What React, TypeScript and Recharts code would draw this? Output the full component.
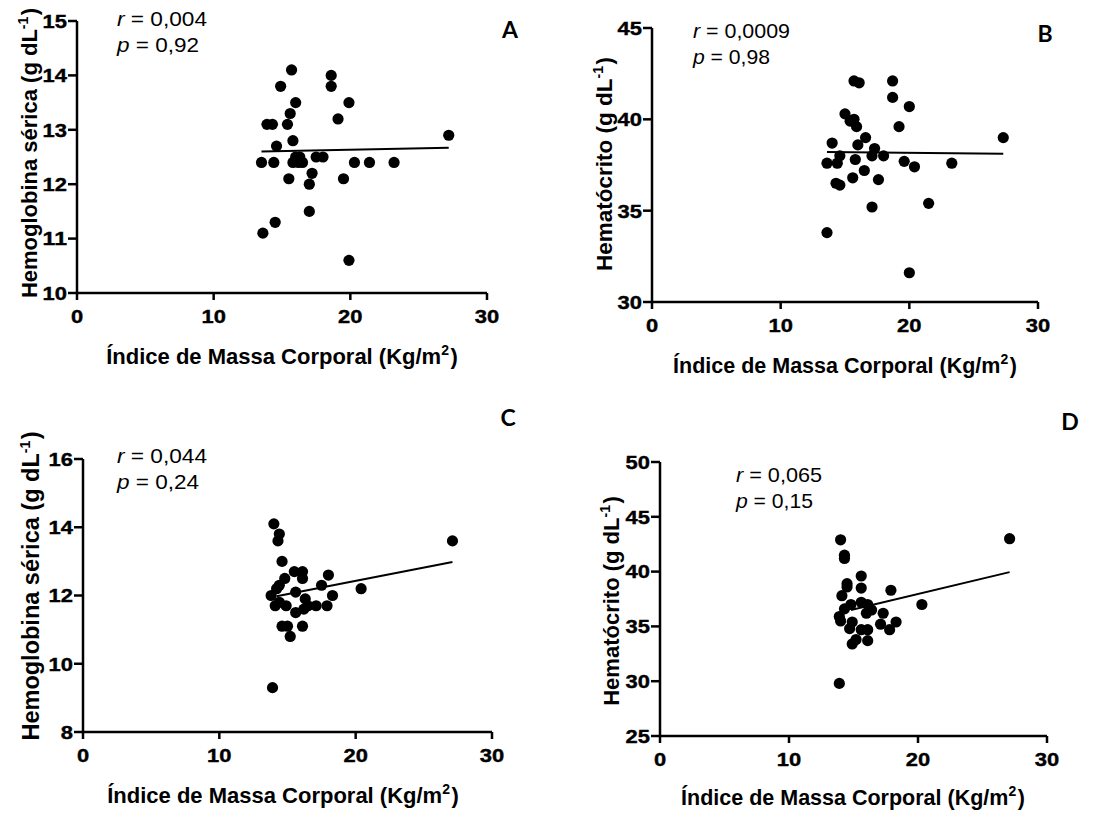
import React from 'react';
import { ScatterChart, Scatter, XAxis, YAxis, ReferenceLine } from 'recharts';

// índice de massa corporal (x) e valores (y)
const imcA = [15.7, 18.6, 18.6, 14.9, 16.0, 19.9, 15.6, 19.1, 13.9, 14.3, 15.4, 27.2, 15.8, 14.6, 13.5, 14.4, 15.8, 16.5, 16.0, 16.3, 16.2, 17.5, 18.0, 20.3, 21.4, 23.2, 17.2, 15.5, 19.5, 17.0, 17.0, 14.5, 13.6, 19.9];
const hbA = [14.1, 14.0, 13.8, 13.8, 13.5, 13.5, 13.3, 13.2, 13.1, 13.1, 13.1, 12.9, 12.8, 12.7, 12.4, 12.4, 12.4, 12.4, 12.5, 12.5, 12.4, 12.5, 12.5, 12.4, 12.4, 12.4, 12.2, 12.1, 12.1, 12.0, 11.5, 11.3, 11.1, 10.6];

const imcB = [15.7, 16.1, 18.7, 18.7, 20.0, 15.0, 15.7, 15.4, 15.9, 19.2, 27.3, 16.6, 14.0, 16.0, 17.3, 14.6, 17.1, 18.0, 15.8, 13.6, 14.4, 19.6, 20.4, 23.3, 16.5, 15.6, 17.6, 14.3, 14.6, 17.1, 21.5, 13.6, 20.0];
const htB = [42.1, 42.0, 42.1, 41.2, 40.7, 40.3, 40.0, 39.9, 39.6, 39.6, 39.0, 39.0, 38.7, 38.6, 38.4, 38.0, 38.0, 38.0, 37.8, 37.6, 37.6, 37.7, 37.4, 37.6, 37.2, 36.8, 36.7, 36.5, 36.4, 35.2, 35.4, 33.8, 31.6];

const imcC = [14.0, 14.4, 14.3, 27.1, 14.6, 15.5, 16.1, 18.0, 14.8, 16.1, 14.4, 17.5, 14.2, 20.4, 15.6, 13.8, 18.3, 16.3, 14.4, 14.1, 14.9, 16.5, 17.1, 17.9, 16.2, 15.6, 14.6, 15.0, 16.1, 15.2, 13.9];
const hbC = [14.1, 13.8, 13.6, 13.6, 13.0, 12.7, 12.7, 12.6, 12.5, 12.5, 12.3, 12.3, 12.2, 12.2, 12.1, 12.0, 12.0, 11.9, 11.8, 11.7, 11.7, 11.7, 11.7, 11.7, 11.6, 11.5, 11.1, 11.1, 11.1, 10.8, 9.3];

const imcD = [14.0, 27.1, 14.3, 14.3, 15.6, 14.5, 14.5, 15.6, 17.9, 14.1, 15.6, 14.8, 16.1, 20.3, 14.3, 16.4, 16.0, 17.3, 13.9, 14.0, 14.9, 17.1, 18.3, 14.7, 15.6, 16.1, 17.8, 15.2, 14.9, 16.1, 13.9];
const htD = [42.9, 43.0, 41.5, 41.2, 39.6, 38.9, 38.6, 38.5, 38.3, 37.8, 37.2, 37.0, 37.0, 37.0, 36.6, 36.5, 36.2, 36.2, 35.9, 35.5, 35.4, 35.2, 35.4, 34.8, 34.7, 34.7, 34.7, 33.8, 33.4, 33.7, 29.8];

// retas de regressão (extremos)
const lineA = [{ x: 13.5, y: 12.6 }, { x: 27.2, y: 12.67 }];
const lineB = [{ x: 13.6, y: 38.21 }, { x: 27.3, y: 38.12 }];
const lineC = [{ x: 14.2, y: 11.98 }, { x: 27.1, y: 12.98 }];
const lineD = [{ x: 14.8, y: 36.5 }, { x: 27.1, y: 39.95 }];

const xTicks = [0, 10, 20, 30];
const yTicksA = [10, 11, 12, 13, 14, 15];
const yTicksB = [30, 35, 40, 45];
const yTicksC = [8, 10, 12, 14, 16];
const yTicksD = [25, 30, 35, 40, 45, 50];

const toPoints = (xs: number[], ys: number[]) => xs.map((x, i) => ({ x, y: ys[i] }));

const AXIS_FONT = '"Liberation Sans", Arial, sans-serif';
const TICK_STYLE = { fontFamily: AXIS_FONT, fontWeight: 700, fontSize: 19, fill: '#000', stroke: '#000', strokeWidth: 0.4 };
// the original lettering is wider than Arial, so digits are stretched a little
const DIGIT_W = 12.2;

type PanelProps = {
  data: { x: number; y: number }[];
  line: { x: number; y: number }[];
  yTicks: number[];
  left: number;
  top: number;
  right: number;
  bottom: number;
};

const Dot = (props: any) => <circle cx={props.cx} cy={props.cy} r={5.6} fill="#000" />;

const XTick = (props: any) => {
  const s = String(props.payload.value);
  return (
    <text x={props.x} y={props.y} dy="0.7em" textAnchor="middle" textLength={s.length * DIGIT_W} lengthAdjust="spacingAndGlyphs" style={TICK_STYLE}>
      {s}
    </text>
  );
};

const YTick = (props: any) => {
  const s = String(props.payload.value);
  return (
    <text x={props.x} y={props.y} dy="0.36em" textAnchor="end" textLength={s.length * DIGIT_W} lengthAdjust="spacingAndGlyphs" style={TICK_STYLE}>
      {s}
    </text>
  );
};

const Panel = ({ data, line, yTicks, left, top, right, bottom }: PanelProps) => {
  const yAxisW = 60;
  const xAxisH = 50;
  const w = right - left + yAxisW + 12;
  const h = bottom - top + 12 + xAxisH;
  return (
    <div style={{ position: 'absolute', left: left - yAxisW, top: top - 12 }}>
      <ScatterChart width={w} height={h} margin={{ top: 12, right: 12, bottom: 0, left: 0 }}>
        <XAxis
          type="number"
          dataKey="x"
          domain={[0, 30]}
          ticks={xTicks}
          height={xAxisH}
          tick={XTick}
          tickSize={7}
          tickMargin={10}
          axisLine={{ stroke: '#000', strokeWidth: 2.5 }}
          tickLine={{ stroke: '#000', strokeWidth: 2.5 }}
        />
        <YAxis
          type="number"
          dataKey="y"
          domain={[yTicks[0], yTicks[yTicks.length - 1]]}
          ticks={yTicks}
          width={yAxisW}
          tick={YTick}
          tickSize={9}
          tickMargin={1}
          axisLine={{ stroke: '#000', strokeWidth: 2.5 }}
          tickLine={{ stroke: '#000', strokeWidth: 2.5 }}
        />
        <ReferenceLine segment={line} stroke="#000" strokeWidth={2} />
        <Scatter data={data} shape={Dot} isAnimationActive={false} />
      </ScatterChart>
    </div>
  );
};

const TITLE = { fontFamily: AXIS_FONT, fontWeight: 700, fill: '#000' };
const NOTE = { fontFamily: AXIS_FONT, fontSize: 21, fill: '#000' };
const LETTER = { fontFamily: 'Lato, "Open Sans", sans-serif', fontWeight: 700, fontSize: 23, fill: '#000' };

const XTitle = ({ x, y, size }: { x: number; y: number; size: number }) => (
  <text x={x} y={y} textAnchor="middle" style={{ ...TITLE, fontSize: size }}>
    Índice de Massa Corporal (Kg/m<tspan dy={-9} fontSize={14}>2</tspan><tspan dx={1.5} dy={9}>)</tspan>
  </text>
);

const YTitle = ({ x, y, size, label }: { x: number; y: number; size: number; label: string }) => (
  <text x={x} y={y} textAnchor="middle" transform={`rotate(-90 ${x} ${y})`} style={{ ...TITLE, fontSize: size }}>
    {label} (g dL<tspan dy={-9} fontSize={14}>-1</tspan><tspan dx={1.5} dy={9}>)</tspan>
  </text>
);

const Stats = ({ x, y, r, p, rLen, pLen }: { x: number; y: number; r: string; p: string; rLen: number; pLen: number }) => (
  <g style={NOTE}>
    <text x={x} y={y} textLength={rLen} lengthAdjust="spacingAndGlyphs">
      <tspan fontStyle="italic">r</tspan>{' = ' + r}
    </text>
    <text x={x} y={y + 26} textLength={pLen} lengthAdjust="spacingAndGlyphs">
      <tspan fontStyle="italic">p</tspan>{' = ' + p}
    </text>
  </g>
);

export default function App() {
  return (
    <div style={{ position: 'absolute', left: 0, top: 0, width: 1113, height: 813, background: '#fff' }}>
      <Panel data={toPoints(imcA, hbA)} line={lineA} yTicks={yTicksA} left={77} top={21} right={487} bottom={293} />
      <Panel data={toPoints(imcB, htB)} line={lineB} yTicks={yTicksB} left={652} top={28} right={1038} bottom={302} />
      <Panel data={toPoints(imcC, hbC)} line={lineC} yTicks={yTicksC} left={83} top={459} right={492} bottom={732} />
      <Panel data={toPoints(imcD, htD)} line={lineD} yTicks={yTicksD} left={660} top={462} right={1047} bottom={736} />

      <svg width={1113} height={813} style={{ position: 'absolute', left: 0, top: 0, pointerEvents: 'none' }}>
        <YTitle x={36.5} y={153} size={22} label="Hemoglobina sérica" />
        <XTitle x={282} y={364} size={22} />
        <Stats x={117} y={26} r="0,004" p="0,92" rLen={90} pLen={82} />
        <text x={510} y={38} textAnchor="middle" style={LETTER}>A</text>

        <YTitle x={612} y={164} size={22.5} label="Hematócrito" />
        <XTitle x={845} y={373} size={21.5} />
        <Stats x={693} y={38} r="0,0009" p="0,98" rLen={97} pLen={77} />
        <text x={1045} y={42} textAnchor="middle" style={LETTER}>B</text>

        <YTitle x={39} y={586} size={23.5} label="Hemoglobina sérica" />
        <XTitle x={283} y={803} size={22} />
        <Stats x={117} y={463} r="0,044" p="0,24" rLen={90} pLen={82} />
        <text x={508} y={426} textAnchor="middle" style={LETTER}>C</text>

        <YTitle x={619} y={601} size={22} label="Hematócrito" />
        <XTitle x={853} y={805} size={21.5} />
        <Stats x={736} y={482} r="0,065" p="0,15" rLen={86} pLen={77} />
        <text x={1070} y={430} textAnchor="middle" style={LETTER}>D</text>
      </svg>
    </div>
  );
}
